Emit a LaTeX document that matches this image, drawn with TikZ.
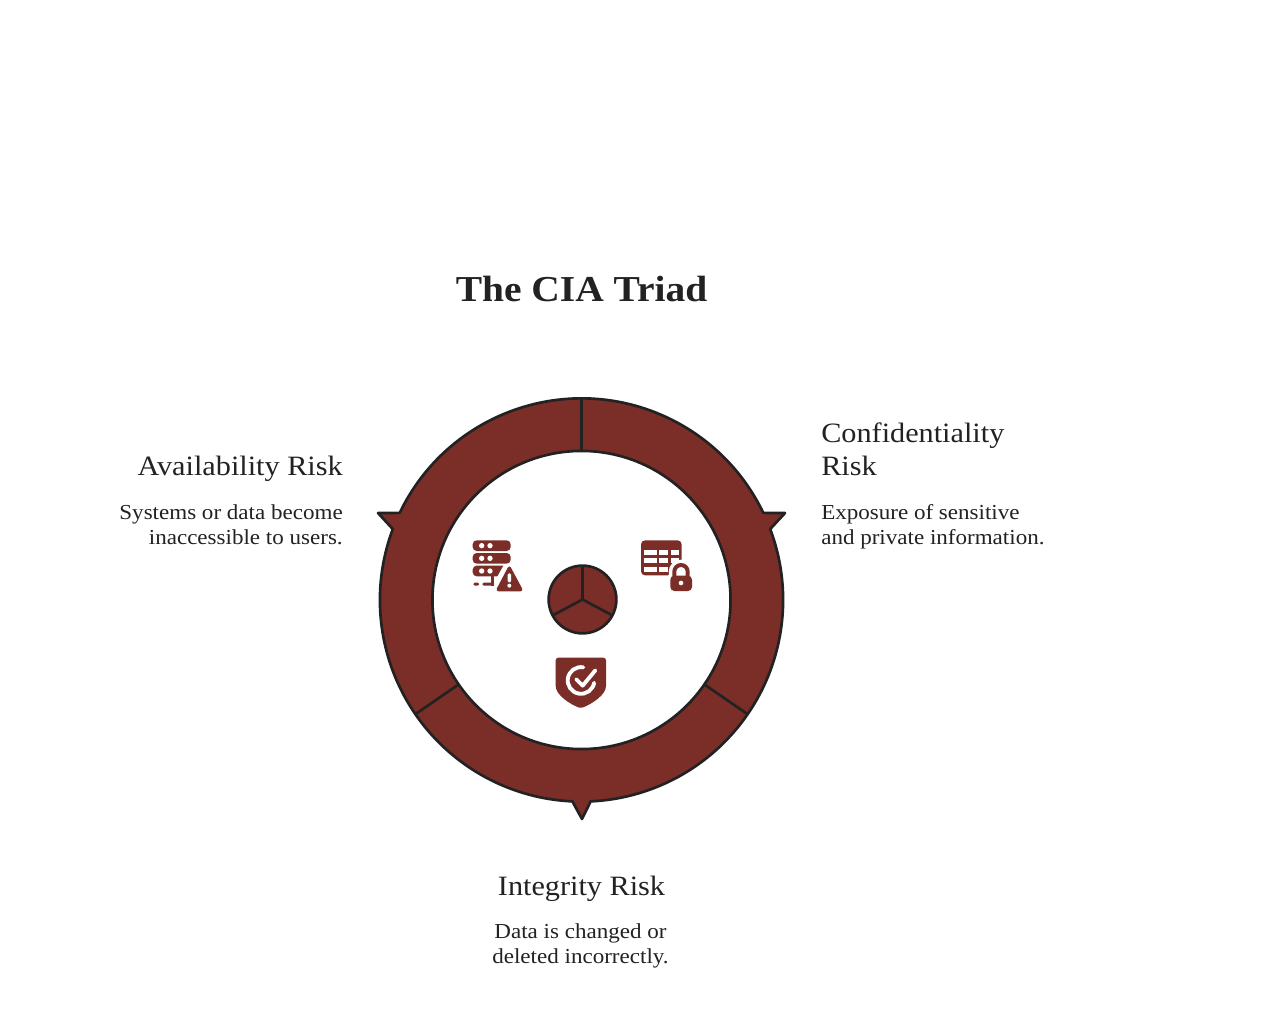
\documentclass[tikz,border=0pt]{standalone}
\usepackage{fontspec}
\setmainfont[FakeStretch=1.08]{Liberation Serif}
\definecolor{ringred}{HTML}{7B2D28}
\definecolor{ink}{HTML}{222222}
\tikzset{
  ringline/.style={draw=ink,line width=2pt,line join=round},
  ttl/.style={font=\fontsize{27.4}{30}\selectfont\bfseries,text=ink,inner sep=0pt},
  head/.style={font=\fontsize{21}{25}\selectfont,text=ink,inner sep=0pt},
  body/.style={font=\fontsize{16}{18.75}\selectfont,text=ink,inner sep=0pt},
  iconfill/.style={fill=ringred,draw=none}
}
\begin{document}
\begin{tikzpicture}[x=0.75pt,y=0.75pt]
\useasboundingbox (0,0) rectangle (1274,1008);
\fill[white] (0,0) rectangle (1274,1008);
\coordinate (c) at (581.5,408);
% ring
\begin{scope}[shift={(c)}]
\def\Rout{151.2pt}
\filldraw[ringline,fill=ringred]
  (25.6:\Rout) -- (203.5,87) -- (20.6:\Rout)
  arc[start angle=20.6,end angle=-87.4,radius=\Rout]
  -- (0.5,-219) -- (-92.6:\Rout)
  arc[start angle=-92.6,end angle=-200.6,radius=\Rout]
  -- (-203.5,87) -- (154.4:\Rout)
  arc[start angle=154.4,end angle=25.6,radius=\Rout] -- cycle;
\filldraw[ringline,fill=white] (0,0) circle[radius=111.8pt];
\draw[ringline] (90:111.8pt) -- (90:151.2pt);
\draw[ringline] (214.5:111.8pt) -- (214.5:151.2pt);
\draw[ringline] (-34.5:111.8pt) -- (-34.5:151.2pt);
\end{scope}
% hub
\begin{scope}[shift={(582.5,408.5)}]
\filldraw[ringline,fill=ringred] (0,0) circle[radius=25.4pt];
\draw[ringline] (0,0) -- (90:25.4pt);
\draw[ringline] (0,0) -- (208:25.4pt);
\draw[ringline] (0,0) -- (-28:25.4pt);
\end{scope}
% icons, in coordinates of a 3x crop
\begin{scope}[shift={(440,488)},x=0.25pt,y=-0.25pt]
 % server
 \fill[iconfill,rounded corners=3pt] (98,137) rectangle (212,169);
 \fill[white] (208,105) -- (273,222) -- (143,222) -- cycle;
 \fill[iconfill,rounded corners=3pt] (98,61) rectangle (212,93);
 \fill[iconfill,rounded corners=3pt] (98,99) rectangle (212,131);
 \foreach \yy in {77,115,153}{
   \fill[white] (125,\yy) circle[radius=8];
   \fill[white] (150,\yy) circle[radius=8];}
 \fill[iconfill,rounded corners=1pt] (100,188) rectangle (117,197);
 \fill[iconfill,rounded corners=1pt] (127,188) rectangle (162,197);
 \fill[iconfill] (152,165) rectangle (162,197);
 \fill[iconfill,rounded corners=2.5pt] (208,134) -- (251,214) -- (166,214) -- cycle;
 \fill[white,rounded corners=1pt] (203,160) rectangle (213,187);
 \fill[white] (208,197) circle[radius=6];
 % table
 \fill[iconfill,rounded corners=3pt] (603,61) rectangle (725,166);
 \foreach \yy/\hh in {90/15,114/15,140/15}{
   \fill[white] (613,\yy) rectangle (651,\yy+\hh);
   \fill[white] (658,\yy) rectangle (684,\yy+\hh);
   \fill[white] (693,\yy) rectangle (716,\yy+\hh);}
 \fill[white,rounded corners=4pt] (682,158) rectangle (766,222);
 \fill[white] (723,156) circle[radius=37];
 \draw[ringred,line width=3pt] (703,172) -- (703,155) arc[start angle=180,end angle=360,radius=20] -- (743,172);
 \fill[iconfill,rounded corners=3pt] (691,167) rectangle (756,213);
 \fill[white] (723,189) circle[radius=7];
 % shield
 \fill[iconfill,rounded corners=2pt] (347,413) -- (498,413) -- (498,490)
   .. controls (498,525) and (455,552) .. (422,565)
   .. controls (390,552) and (347,525) .. (347,490) -- cycle;
 \draw[white,line width=2.9pt,line cap=round] (430,442) arc[start angle=-80,end angle=-350,radius=40];
 \draw[white,line width=2.9pt,line cap=round,line join=round] (409,478) -- (428,497) -- (466,451);
\end{scope}
% texts
\node[ttl,anchor=base] (title) at (581.5,706) {The CIA Triad};
\node[head,anchor=base east] (avh) at (343,532) {Availability Risk};
\node[body,anchor=base east] (avb1) at (343,488.5) {Systems or data become};
\node[body,anchor=base east] (avb2) at (343,464) {inaccessible to users.};
\node[head,anchor=base west] (coh1) at (821,565) {Confidentiality};
\node[head,anchor=base west] (coh2) at (821,532) {Risk};
\node[body,anchor=base west] (cob1) at (821,488.5) {Exposure of sensitive};
\node[body,anchor=base west] (cob2) at (821,464) {and private information.};
\node[head,anchor=base] (inh) at (581.5,113) {Integrity Risk};
\node[body,anchor=base] (inb1) at (580.5,70) {Data is changed or};
\node[body,anchor=base] (inb2) at (580.5,45) {deleted incorrectly.};
\end{tikzpicture}
\end{document}
